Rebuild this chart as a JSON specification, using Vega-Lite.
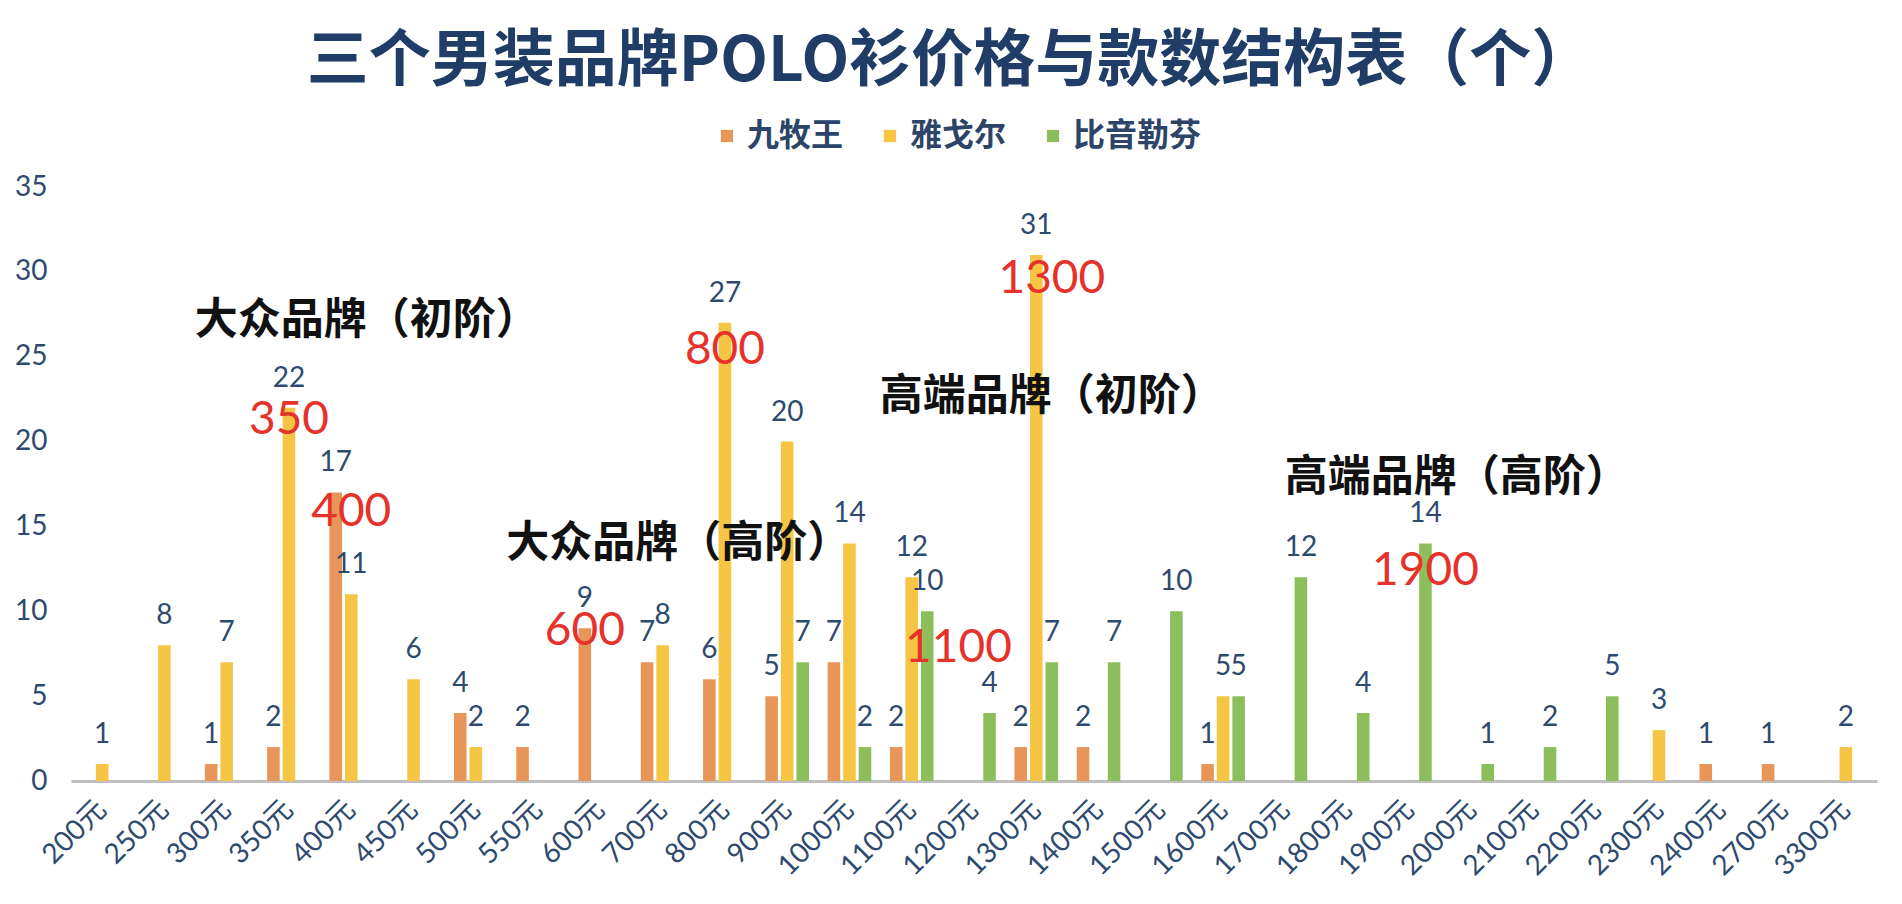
{
  "$schema": "https://vega.github.io/schema/vega-lite/v6.json",
  "width": 1806,
  "height": 594,
  "autosize": {"type": "none"},
  "padding": {"left": 71, "top": 187, "right": 25, "bottom": 123},
  "background": "white",
  "title": {
    "text": "三个男装品牌POLO衫价格与款数结构表（个）",
    "font": "Noto Sans CJK SC",
    "fontSize": 62,
    "fontWeight": "bold",
    "color": "#1F3D66",
    "anchor": "middle",
    "baseline": "middle",
    "offset": -4,
    "dx": -24
  },
  "data": {
    "values": [
      {"price": "200元", "brand": "雅戈尔", "count": 1},
      {"price": "250元", "brand": "雅戈尔", "count": 8},
      {"price": "300元", "brand": "九牧王", "count": 1},
      {"price": "300元", "brand": "雅戈尔", "count": 7},
      {"price": "350元", "brand": "九牧王", "count": 2},
      {"price": "350元", "brand": "雅戈尔", "count": 22},
      {"price": "400元", "brand": "九牧王", "count": 17},
      {"price": "400元", "brand": "雅戈尔", "count": 11},
      {"price": "450元", "brand": "雅戈尔", "count": 6},
      {"price": "500元", "brand": "九牧王", "count": 4},
      {"price": "500元", "brand": "雅戈尔", "count": 2},
      {"price": "550元", "brand": "九牧王", "count": 2},
      {"price": "600元", "brand": "九牧王", "count": 9},
      {"price": "700元", "brand": "九牧王", "count": 7},
      {"price": "700元", "brand": "雅戈尔", "count": 8},
      {"price": "800元", "brand": "九牧王", "count": 6},
      {"price": "800元", "brand": "雅戈尔", "count": 27},
      {"price": "900元", "brand": "九牧王", "count": 5},
      {"price": "900元", "brand": "雅戈尔", "count": 20},
      {"price": "900元", "brand": "比音勒芬", "count": 7},
      {"price": "1000元", "brand": "九牧王", "count": 7},
      {"price": "1000元", "brand": "雅戈尔", "count": 14},
      {"price": "1000元", "brand": "比音勒芬", "count": 2},
      {"price": "1100元", "brand": "九牧王", "count": 2},
      {"price": "1100元", "brand": "雅戈尔", "count": 12},
      {"price": "1100元", "brand": "比音勒芬", "count": 10},
      {"price": "1200元", "brand": "比音勒芬", "count": 4},
      {"price": "1300元", "brand": "九牧王", "count": 2},
      {"price": "1300元", "brand": "雅戈尔", "count": 31},
      {"price": "1300元", "brand": "比音勒芬", "count": 7},
      {"price": "1400元", "brand": "九牧王", "count": 2},
      {"price": "1400元", "brand": "比音勒芬", "count": 7},
      {"price": "1500元", "brand": "比音勒芬", "count": 10},
      {"price": "1600元", "brand": "九牧王", "count": 1},
      {"price": "1600元", "brand": "雅戈尔", "count": 5},
      {"price": "1600元", "brand": "比音勒芬", "count": 5},
      {"price": "1700元", "brand": "比音勒芬", "count": 12},
      {"price": "1800元", "brand": "比音勒芬", "count": 4},
      {"price": "1900元", "brand": "比音勒芬", "count": 14},
      {"price": "2000元", "brand": "比音勒芬", "count": 1},
      {"price": "2100元", "brand": "比音勒芬", "count": 2},
      {"price": "2200元", "brand": "比音勒芬", "count": 5},
      {"price": "2300元", "brand": "雅戈尔", "count": 3},
      {"price": "2400元", "brand": "九牧王", "count": 1},
      {"price": "2700元", "brand": "九牧王", "count": 1},
      {"price": "3300元", "brand": "雅戈尔", "count": 2}
    ]
  },
  "encoding": {
    "x": {
      "field": "price",
      "type": "nominal",
      "scale": {
        "domain": ["200元", "250元", "300元", "350元", "400元", "450元", "500元", "550元", "600元", "700元", "800元", "900元", "1000元", "1100元", "1200元", "1300元", "1400元", "1500元", "1600元", "1700元", "1800元", "1900元", "2000元", "2100元", "2200元", "2300元", "2400元", "2700元", "3300元"],
        "paddingInner": 0,
        "paddingOuter": 0
      },
      "axis": {
        "title": null,
        "labelAngle": -45,
        "labelAlign": "right",
        "labelBaseline": "middle",
        "labelPadding": 24,
        "labelFont": "Lato, Noto Sans CJK SC",
        "labelFontSize": 28,
        "labelColor": "#2E4A6F",
        "ticks": false,
        "domainColor": "#BFBFBF",
        "domainWidth": 3,
        "grid": false
      }
    },
    "xOffset": {
      "field": "brand",
      "type": "nominal",
      "scale": {
        "domain": ["九牧王", "雅戈尔", "比音勒芬"],
        "paddingInner": 0.19,
        "paddingOuter": 0.6
      }
    },
    "y": {
      "field": "count",
      "type": "quantitative",
      "scale": {"domain": [0, 35], "nice": false},
      "axis": {
        "title": null,
        "values": [0, 5, 10, 15, 20, 25, 30, 35],
        "labelFont": "Lato",
        "labelFontSize": 28,
        "labelColor": "#2E4A6F",
        "labelPadding": 24,
        "ticks": false,
        "domain": false,
        "grid": false
      }
    }
  },
  "layer": [
    {
      "mark": {"type": "bar"},
      "encoding": {
        "color": {
          "field": "brand",
          "type": "nominal",
          "scale": {
            "domain": ["九牧王", "雅戈尔", "比音勒芬"],
            "range": ["#E8955A", "#F6C544", "#8DBE5C"]
          },
          "legend": {
            "title": null,
            "orient": "none",
            "direction": "horizontal",
            "legendX": 640,
            "legendY": -67,
            "symbolType": "square",
            "symbolSize": 150,
            "symbolStrokeWidth": 0,
            "labelFont": "Noto Sans CJK SC",
            "labelFontSize": 32,
            "labelFontWeight": "bold",
            "labelColor": "#2B4468",
            "labelOffset": 4,
            "columnPadding": 30,
            "padding": 0
          }
        }
      }
    },
    {
      "mark": {
        "type": "text",
        "baseline": "alphabetic",
        "dy": -21,
        "font": "Lato",
        "fontSize": 28,
        "color": "#2E4A6F"
      },
      "encoding": {
        "text": {"field": "count", "type": "quantitative"}
      }
    },
    {
      "data": {
        "values": [
          {"price": "350元", "brand": "雅戈尔", "count": 21.3, "label": "350"},
          {"price": "400元", "brand": "雅戈尔", "count": 15.85, "label": "400"},
          {"price": "600元", "brand": "九牧王", "count": 8.85, "label": "600"},
          {"price": "800元", "brand": "雅戈尔", "count": 25.4, "label": "800"},
          {"price": "1200元", "brand": "九牧王", "count": 7.85, "label": "1100"},
          {"price": "1300元", "brand": "比音勒芬", "count": 29.6, "label": "1300"},
          {"price": "1900元", "brand": "比音勒芬", "count": 12.4, "label": "1900"}
        ]
      },
      "mark": {
        "type": "text",
        "baseline": "middle",
        "align": "center",
        "font": "Lato",
        "fontSize": 46,
        "color": "#E5322B"
      },
      "encoding": {
        "text": {"field": "label", "type": "nominal"}
      }
    },
    {
      "data": {
        "values": [
          {"price": "400元", "brand": "比音勒芬", "count": 27.1, "label": "大众品牌（初阶）"},
          {"price": "700元", "brand": "比音勒芬", "count": 13.97, "label": "大众品牌（高阶）"},
          {"price": "1300元", "brand": "比音勒芬", "count": 22.6, "label": "高端品牌（初阶）"},
          {"price": "2000元", "brand": "九牧王", "count": 17.85, "label": "高端品牌（高阶）"}
        ]
      },
      "mark": {
        "type": "text",
        "baseline": "middle",
        "align": "center",
        "font": "Noto Sans CJK SC",
        "fontSize": 43,
        "fontWeight": "bold",
        "color": "#111111"
      },
      "encoding": {
        "text": {"field": "label", "type": "nominal"}
      }
    }
  ],
  "config": {
    "view": {"stroke": null}
  }
}
